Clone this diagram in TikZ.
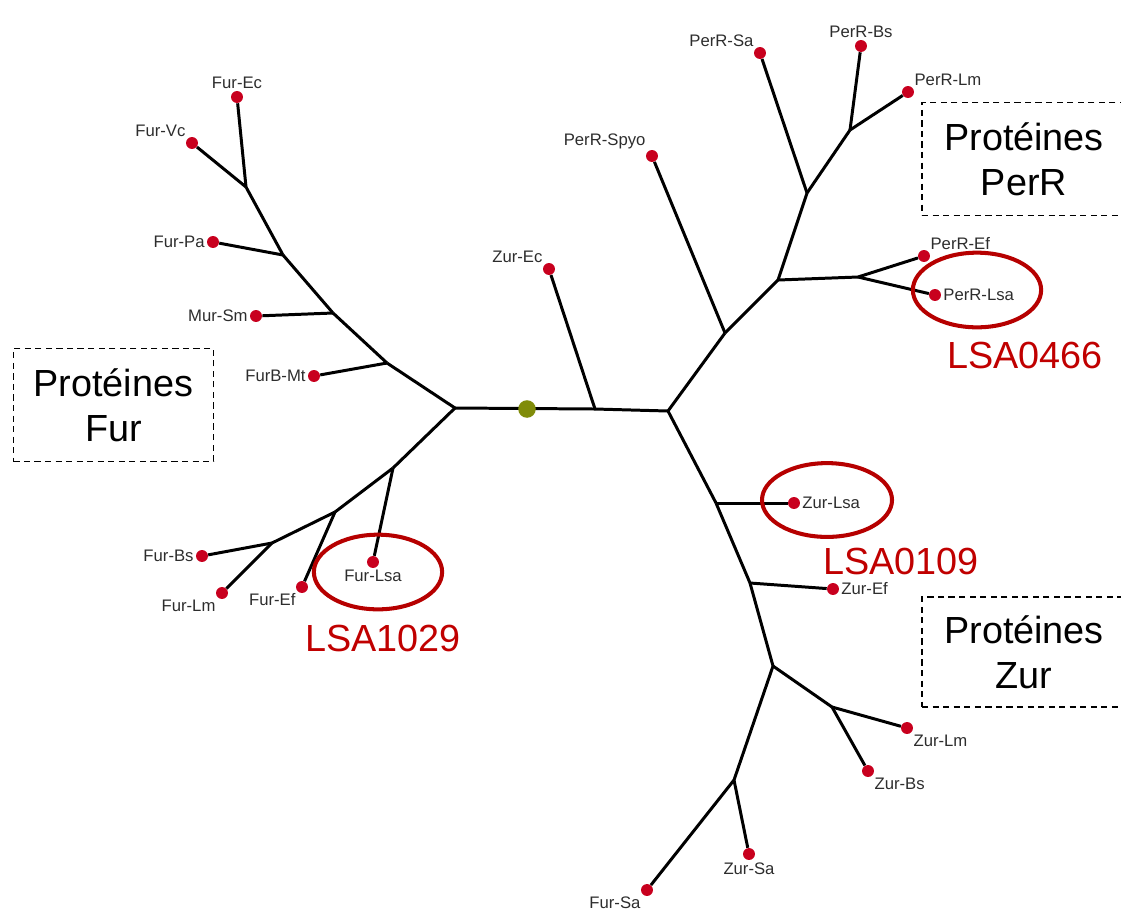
\documentclass[tikz,border=0pt]{standalone}
\usepackage{fontspec}
\setmainfont{Liberation Sans}
\usepackage{tikz}
\usetikzlibrary{shapes.geometric,positioning,calc}
\definecolor{dotred}{RGB}{200,0,30}
\definecolor{rootolive}{RGB}{128,140,10}
\definecolor{lsared}{RGB}{192,0,0}
\definecolor{lblgray}{RGB}{45,45,45}
\tikzset{
  branch/.style={line width=1.7pt,black},
  leaf/.style={circle,fill=dotred,inner sep=0pt,minimum size=6.8pt},
  lbl/.style={font=\fontsize{9.5}{11}\selectfont,text=lblgray,inner sep=1pt},
  ring/.style={ellipse,draw=lsared!95!black,line width=2.3pt,inner sep=0pt},
  lsa/.style={font=\fontsize{21.5}{24}\selectfont,text=lsared},
  group/.style={draw,dash pattern=on 3.5pt off 2.5pt,line width=0.8pt,align=center,
    inner sep=0pt,font=\fontsize{21.5}{25.6}\selectfont}
}
\begin{document}
\begin{tikzpicture}[x=0.02cm,y=-0.02cm]
    \useasboundingbox (0,0) rectangle (1121,914);
    % internal branching points
    \foreach \n/\x/\y in {L/455/408, f1/387/363, f2/333/313, f3/283/255, f4/246/187,
        g1/393/468, g2/335/512, g3/272/543, z/595/409, R/668/411,
        A/725/333, B/778/280, C/858/277, D/807/193, E/850/130,
        F/716/503, G/750/583, H/773/666, I/832/707, J/734/780}
        \coordinate (\n) at (\x,\y);
    % leaves
    \foreach \n/\x/\y/\p/\t in {
        furec/237/97/above/Fur-Ec, furvc/192/143/above left/Fur-Vc,
        furpa/213/242/left/Fur-Pa, mursm/256/316/left/Mur-Sm,
        furbmt/314/376/left/FurB-Mt, furbs/202/556/left/Fur-Bs,
        furlm/222/593/below left/Fur-Lm, furef/302/587/below left/Fur-Ef,
        furlsa/373/562/below/Fur-Lsa, zurec/549/269/above left/Zur-Ec,
        perspyo/652/156/above left/PerR-Spyo, persa/760/53/above left/PerR-Sa,
        perbs/861/46/above/PerR-Bs, perlm/908/92/above right/PerR-Lm,
        peref/924/256/above right/PerR-Ef, perlsa/935/295/right/PerR-Lsa,
        zurlsa/794/503/right/Zur-Lsa, zuref/833/589/right/Zur-Ef,
        zurlm/907/728/below right/Zur-Lm, zurbs/868/771/below right/Zur-Bs,
        zursa/749/854/below/Zur-Sa, fursa/647/890/below left/Fur-Sa}
        \node[leaf,label={[lbl,label distance=0pt]\p:\t}] (\n) at (\x,\y) {};
    % tree
    \foreach \a/\b in {L/f1, f1/f2, f2/f3, f3/f4, f1/furbmt, f2/mursm, f3/furpa,
        f4/furvc, f4/furec, L/g1, g1/g2, g2/g3, g1/furlsa, g2/furef, g3/furbs,
        g3/furlm, L/z, z/R, z/zurec, R/A, A/B, B/D, D/E, A/perspyo, B/C,
        C/peref, C/perlsa, D/persa, E/perbs, E/perlm, R/F, F/G, G/H, H/I,
        H/J, F/zurlsa, G/zuref, I/zurlm, I/zurbs, J/zursa, J/fursa}
        \draw[branch] (\a) -- (\b);
    \node[circle,fill=rootolive,inner sep=0pt,minimum size=10pt] (root) at (527,409) {};
    % highlighted Lsa proteins
    \node[ring,minimum width=73pt,minimum height=42.5pt] (ringfur) at (378,572) {};
    \node[ring,minimum width=73pt,minimum height=42.5pt] (ringper) at (977,290) {};
    \node[ring,minimum width=74pt,minimum height=42pt] (ringzur) at (827,500) {};
    \node[lsa] (lsafur) at (383,638) {LSA1029};
    \node[lsa] (lsaper) at (1025,355) {LSA0466};
    \node[lsa] (lsazur) at (901,561) {LSA0109};
    % protein families
    \node[group,minimum width=114pt,minimum height=64pt] (boxfur) at (113.5,405) {Protéines\\Fur};
    \node[group,minimum width=116pt,minimum height=64pt] (boxper) at (1024,159) {Protéines\\PerR};
    \node[group,minimum width=116pt,minimum height=62.5pt] (boxzur) at (1024,652) {Protéines\\Zur};
\end{tikzpicture}
\end{document}
